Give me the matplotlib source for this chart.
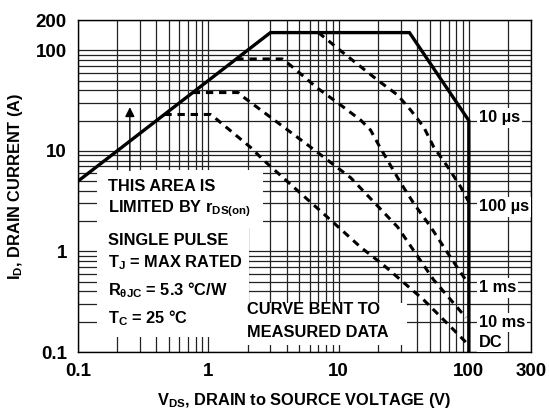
import matplotlib
matplotlib.use('Agg')
import matplotlib.pyplot as plt
from matplotlib.patches import Rectangle

plt.rcParams['font.family'] = ['Liberation Sans', 'DejaVu Sans']
plt.rcParams['font.weight'] = 'bold'
plt.rcParams['mathtext.default'] = 'regular'

# safe operating area
solid_v = [0.1, 3.0, 35, 100, 100]
solid_i = [5, 150, 150, 20, 0.1]

us100_v = [7.0, 10.9, 19.9, 28.4, 35.8, 45, 53.8, 69, 86.7, 100]
us100_i = [150, 94, 50.6, 35.9, 25.4, 17.3, 10.9, 6.9, 4.37, 3.1]

ms1_v = [1.64, 3.7, 4.27, 6.9, 10.4, 14.8, 17.6, 21, 30, 37.8, 51, 69, 87, 98]
ms1_i = [82, 82, 71, 42, 28.5, 20.2, 16.1, 10.6, 4.8, 3.0, 1.75, 0.96, 0.61, 0.49]

ms10_v = [0.76, 1.7, 1.86, 6.1, 12.4, 28.4, 53.8, 95]
ms10_i = [38, 38, 34.3, 10.9, 5.4, 1.75, 0.52, 0.22]

dc_v = [0.46, 1.04, 1.13, 2.1, 2.65, 4.8, 8.7, 14.8, 22.2, 30, 45, 69, 98]
dc_i = [23, 23, 21.2, 10.9, 8.1, 4.07, 2.05, 1.1, 0.73, 0.52, 0.33, 0.19, 0.12]

xticks = [0.1, 1, 10, 100, 300]
yticks = [0.1, 1, 10, 100, 200]

fig = plt.figure(figsize=(5.49, 4.12), dpi=100)
ax = fig.add_axes([0.1421, 0.1456, 0.8251, 0.8058])
ax.set_xscale('log')
ax.set_yscale('log')
ax.set_xlim(0.1, 300)
ax.set_ylim(0.1, 200)

ax.grid(True, which='both', color='#222222', lw=0.9, zorder=0)
ax.set_axisbelow(True)
ax.set_xticks(xticks)
ax.set_xticklabels(['0.1', '1', '10', '100', '300'])
ax.set_yticks(yticks)
ax.set_yticklabels(['0.1', '1', '10', '100', '200'])
ax.tick_params(which='both', length=0, labelsize=13.5)
ax.tick_params(axis='x', pad=8)
ax.tick_params(axis='y', pad=8)
for s in ax.spines.values():
    s.set_linewidth(1.0)

# white areas behind the notes
for (x0, y0, w, h) in [(0.042, 0.373, 0.366, 0.175),
                       (0.042, 0.045, 0.335, 0.33),
                       (0.358, 0.021, 0.368, 0.127)]:
    ax.add_patch(Rectangle((x0, y0), w, h, transform=ax.transAxes,
                           fc='white', ec='none', zorder=1))

ax.plot(solid_v, solid_i, color='black', lw=2.4, zorder=3, solid_joinstyle='miter')
dash = (0, (2.4, 1.9))
for v, i in [(us100_v, us100_i), (ms1_v, ms1_i), (ms10_v, ms10_i), (dc_v, dc_i)]:
    ax.plot(v, i, color='black', lw=2.2, ls=dash, zorder=3)

ax.annotate('', xy=(0.25, 29), xytext=(0.25, 6),
            arrowprops=dict(arrowstyle='-|>', color='black', lw=1.0,
                            mutation_scale=14), zorder=4)

fs = 11.8
notes = [(0.066, 0.500, 'THIS AREA IS'),
         (0.066, 0.433, 'LIMITED BY r$_{DS(on)}$'),
         (0.066, 0.337, 'SINGLE PULSE'),
         (0.066, 0.270, 'T$_{J}$ = MAX RATED'),
         (0.066, 0.186, 'R$_{θJC}$ = 5.3 °C/W'),
         (0.066, 0.101, 'T$_{C}$ = 25 °C'),
         (0.372, 0.127, 'CURVE BENT TO'),
         (0.372, 0.060, 'MEASURED DATA')]
for x, y, t in notes:
    ax.text(x, y, t, transform=ax.transAxes, fontsize=fs, fontweight='bold',
            va='center', ha='left', zorder=5)

labels = [(0.705, '10 µs'), (0.437, '100 µs'), (0.193, '1 ms'),
          (0.090, '10 ms'), (0.030, 'DC')]
for y, t in labels:
    ax.text(0.885, y, t, transform=ax.transAxes, fontsize=fs, fontweight='bold',
            va='center', ha='left', zorder=5,
            bbox=dict(fc='white', ec='none', pad=1.5))

ax.set_xlabel('V$_{DS}$, DRAIN to SOURCE VOLTAGE (V)', fontsize=fs,
              fontweight='bold', va='center')
ax.xaxis.set_label_coords(0.5, -0.145)
ax.set_ylabel('I$_{D}$, DRAIN CURRENT (A)', fontsize=fs, fontweight='bold',
              va='center')
ax.yaxis.set_label_coords(-0.137, 0.5)

fig.savefig('out.png', dpi=100)
